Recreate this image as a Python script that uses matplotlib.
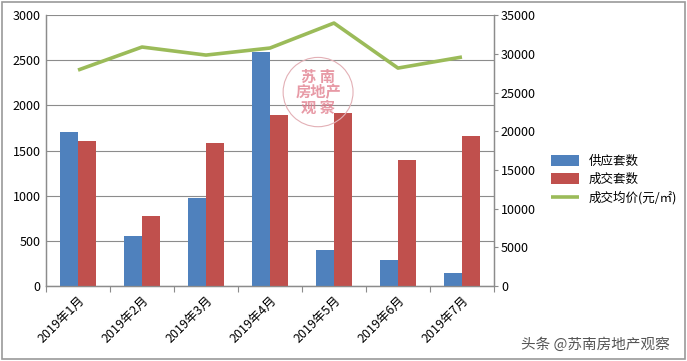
import numpy as np
import matplotlib.pyplot as plt
from matplotlib.patches import Circle

plt.rcParams['font.family'] = ['Noto Sans CJK SC', 'DejaVu Sans']

months = ['2019年1月', '2019年2月', '2019年3月', '2019年4月', '2019年5月', '2019年6月', '2019年7月']
supply = [1710, 550, 970, 2590, 400, 290, 140]
deals = [1610, 780, 1580, 1890, 1920, 1390, 1660]
avg_price = [27900, 30880, 29840, 30750, 33980, 28160, 29590]

blue = '#4F81BD'
red = '#C0504D'
green = '#9BBB59'
grid = '#8C8C8C'

fig = plt.figure(figsize=(6.87, 3.61), dpi=100)
ax = fig.add_axes([0.067, 0.208, 0.652, 0.75])
ax2 = ax.twinx()

x = np.arange(len(months))
w = 0.28
b1 = ax.bar(x - w / 2, supply, w, color=blue, label='供应套数', zorder=3)
b2 = ax.bar(x + w / 2, deals, w, color=red, label='成交套数', zorder=3)
l1, = ax2.plot(x, avg_price, color=green, lw=2.6, label='成交均价(元/㎡)', solid_capstyle='butt')

ax.set_xlim(-0.5, len(months) - 0.5)
ax.set_ylim(0, 3000)
ax.set_yticks(np.arange(0, 3001, 500))
ax2.set_ylim(0, 35000)
ax2.set_yticks(np.arange(0, 35001, 5000))

ax.yaxis.grid(True, color=grid, lw=0.8, zorder=0)
ax.set_axisbelow(True)

ax.set_xticks(np.arange(-0.5, len(months) + 0.5, 1), minor=False)
ax.set_xticklabels([''] * (len(months) + 1))
ax.set_xticks(x, minor=True)
ax.set_xticklabels(months, minor=True, rotation=45, ha='right', va='top',
                   rotation_mode='anchor', fontsize=9)
ax.tick_params(axis='x', which='major', length=4, color=grid)
ax.tick_params(axis='x', which='minor', length=0, pad=6)
ax.tick_params(axis='y', length=0, labelsize=9, pad=4)
ax2.tick_params(axis='y', length=3, color=grid, labelsize=9, pad=2)

for a in (ax, ax2):
    a.spines['top'].set_visible(False)
    for s in ('left', 'right', 'bottom'):
        a.spines[s].set_color(grid)
        a.spines[s].set_linewidth(0.9)

fig.legend(handles=[b1, b2, l1], loc='upper left', bbox_to_anchor=(0.795, 0.585),
           frameon=False, fontsize=9, handlelength=2.2, handleheight=0.9,
           labelspacing=0.4, borderaxespad=0)

# stamp watermark
ax_stamp = fig.add_axes([0.41, 0.645, 0.106, 0.2])
ax_stamp.set_axis_off()
ax_stamp.set_xlim(0, 1)
ax_stamp.set_ylim(0, 1)
ax_stamp.add_patch(Circle((0.5, 0.5), 0.48, fill=False, ec='#E3B0B6', lw=0.8))
ax_stamp.text(0.5, 0.5, '苏 南\n房地产\n观 察', ha='center', va='center',
              color='#E07888', fontsize=11, alpha=0.75, linespacing=0.95,
              fontweight='bold')

fig.text(0.975, 0.045, '头条 @苏南房地产观察', ha='right', va='center',
         fontsize=10.5, color='#555555')

border = plt.Rectangle((0.003, 0.005), 0.994, 0.99, transform=fig.transFigure,
                       fill=False, ec='#9A9A9A', lw=1.2)
fig.patches.append(border)

fig.savefig('out.png', dpi=100)
